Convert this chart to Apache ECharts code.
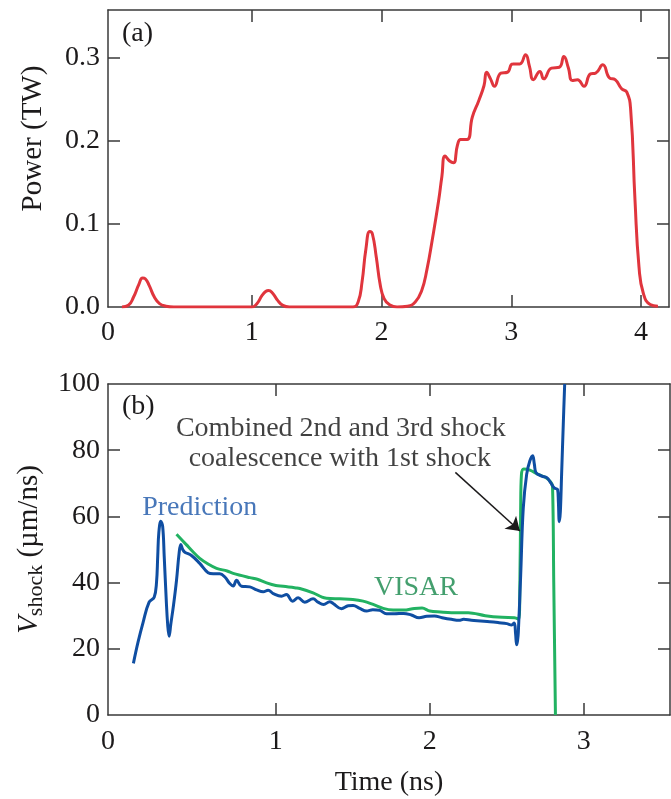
<!DOCTYPE html>
<html><head><meta charset="utf-8">
<script src="https://cdn.jsdelivr.net/npm/echarts@6/dist/echarts.min.js"></script>
<style>html,body{margin:0;padding:0;background:#fff}#c{width:671px;height:799px}</style>
</head><body><div id="c"></div>
<script>
// ---- Panel (a): laser power ----
const powerTime = [0.0,0.05,0.09,0.13,0.16,0.18,0.21,0.25,0.29,0.34,0.4,1.0,1.04,1.08,1.11,1.13,1.16,1.2,1.24,1.29,1.78,1.82,1.85,1.88,1.91,1.93,1.96,1.99,2.02,2.06,2.12,2.2,2.26,2.31,2.35,2.39,2.44,2.465,2.49,2.525,2.555,2.585,2.61,2.66,2.70,2.75,2.79,2.81,2.84,2.87,2.92,2.97,3.01,3.065,3.11,3.14,3.17,3.22,3.25,3.31,3.37,3.405,3.44,3.47,3.51,3.56,3.61,3.65,3.705,3.757,3.80,3.85,3.89,3.92,3.953,3.984,4.018,4.07,4.13];
const powerTW   = [0,0.002,0.012,0.027,0.035,0.034,0.026,0.012,0.004,0.001,0,0,0.004,0.014,0.019,0.020,0.017,0.008,0.002,0,0,0.006,0.03,0.07,0.091,0.088,0.06,0.027,0.01,0.003,0,0.001,0.006,0.02,0.045,0.08,0.128,0.157,0.182,0.176,0.174,0.195,0.202,0.202,0.229,0.249,0.267,0.283,0.275,0.266,0.282,0.283,0.293,0.293,0.304,0.29,0.274,0.284,0.275,0.288,0.289,0.302,0.288,0.273,0.274,0.266,0.281,0.282,0.292,0.276,0.274,0.263,0.259,0.237,0.129,0.048,0.016,0.003,0.001];

// ---- Panel (b): shock velocity ----
const predTime = [0.075,0.105,0.138,0.177,0.21,0.225,0.233,0.24,0.253,0.265,0.275,0.288,0.298,0.307,0.318,0.335,0.355,0.372,0.383,0.395,0.409,0.452,0.506,0.56,0.593,0.636,0.669,0.701,0.723,0.745,0.777,0.831,0.875,0.918,0.95,0.983,1.037,1.069,1.108,1.145,1.188,1.242,1.274,1.31,1.35,1.372,1.426,1.47,1.502,1.545,1.589,1.63,1.675,1.719,1.77,1.83,1.88,1.93,1.98,2.03,2.08,2.14,2.19,2.22,2.27,2.33,2.39,2.45,2.5,2.531,2.548,2.557,2.564,2.57,2.575,2.59,2.607,2.629,2.65,2.668,2.679,2.69,2.727,2.76,2.786,2.808,2.83,2.835,2.841,2.848,2.856,2.867,2.876];
const predVel  = [15.6,22,28,34.1,35.6,40,48,55,58.5,57,48,35,27,23.8,27.5,33,40.7,49,51.5,50,49.2,48.2,45.8,43,42.7,42.7,41.7,39.7,39,40.7,38.9,38.7,37.8,37.2,37.7,36.7,35.9,36.4,34.4,35.4,34.1,35.1,34.1,33.4,34.2,33.7,32.1,33,33.1,32.2,31.4,31.8,31.6,30.6,30.6,30.7,30.2,29.4,29.8,29.9,29.4,28.9,28.6,28.9,28.6,28.4,28.2,27.9,27.6,27.2,27.8,24.6,21.2,22.5,25,42,62.5,72.7,76.8,78.3,75.8,73.2,72.2,71.7,70.1,68.6,68.1,64.5,58.4,61.5,72.7,88,100];

const visarTime = [0.355,0.42,0.46,0.506,0.56,0.615,0.684,0.723,0.831,0.88,0.94,1.0,1.048,1.13,1.156,1.242,1.3,1.329,1.416,1.5,1.567,1.632,1.697,1.762,1.83,1.9,1.95,2.0,2.07,2.14,2.25,2.36,2.47,2.55,2.578,2.585,2.59,2.595,2.61,2.65,2.7,2.75,2.785,2.797,2.805,2.816];
const visarVel  = [54.6,51.4,49.4,47.3,45.6,44.3,43.5,42.8,41.5,41,39.9,39.1,38.9,38.4,38.2,36.9,35.6,35.3,35.1,34.9,34.4,33.4,32.2,31.7,31.7,32.2,32.3,31.4,31.1,30.9,30.9,30,29.5,29.4,28.9,40,62,72.5,74.3,74,72.8,71.8,70.4,69,40,0];

// ---- axes / ticks ----
const topXMin = -0.107, topXMax = 4.215;
const topXTicks = [1,2,3,4];
const topXLabels = [topXMin,1,2,3,4];
const topYMin = 0, topYMax = 0.358;
const topYTicks = [0.1,0.2,0.3];
const topYLabels = [0,0.1,0.2,0.3];

const botXMin = -0.09, botXMax = 3.56;
const botXTicks = [1,2,3];
const botXLabels = [botXMin,1,2,3];
const botYMin = 0, botYMax = 100;
const botYTicks = [20,40,60,80];
const botYLabels = [0,20,40,60,80,100];

// annotation anchor points (data coords)
const arrowFrom = [2.166, 73.3];
const arrowTo   = [2.585, 55.6];
const noteText = ['Combined 2nd and 3rd shock','coalescence with 1st shock','Prediction','VISAR'];
const noteTime = [1.422, 1.416, 0.506, 1.91];
const noteVel  = [86.6, 77.5, 62.7, 38.6];

const FONT = "'Liberation Serif','Times New Roman',serif";
const INK = '#1c1a1b', AX = '#3a3a3a';
const RED = '#e0353d', BLUE = '#0f4ea2', GREEN = '#22b262';
const noteColor = ['#111111', '#111111', '#1a55a8', '#15874a'];

const zip = (a,b) => a.map((v,i)=>[v,b[i]]);

function axisBase(extra) {
  return Object.assign({
    type:'value',
    axisLine:{show:true,onZero:false,lineStyle:{color:AX,width:1.5}},
    splitLine:{show:false},
    axisPointer:{show:false}
  }, extra);
}
function ticksOn(vals){ return {show:true,inside:true,length:12,customValues:vals,lineStyle:{color:AX,width:1.5}}; }
const labelStyle = {fontSize:28,fontFamily:FONT,color:INK};

const chart = echarts.init(document.getElementById('c'), null, {renderer:'canvas'});
chart.setOption({
  animation:false,
  backgroundColor:'#fff',
  grid:[
    {left:108,right:2,top:10,height:297},
    {left:108,right:1,top:384,height:331}
  ],
  xAxis:[
    axisBase({gridIndex:0,min:topXMin,max:topXMax,position:'bottom',axisTick:ticksOn(topXTicks),
      axisLabel:Object.assign({show:true,margin:12,customValues:topXLabels,formatter:v=>v<0.5?'0':String(Math.round(v))},labelStyle)}),
    axisBase({gridIndex:0,min:topXMin,max:topXMax,position:'top',axisTick:ticksOn(topXTicks),axisLabel:{show:false}}),
    axisBase({gridIndex:1,min:botXMin,max:botXMax,position:'bottom',axisTick:ticksOn(botXTicks),
      axisLabel:Object.assign({show:true,margin:13,customValues:botXLabels,formatter:v=>v<0.5?'0':String(Math.round(v))},labelStyle),
      name:'Time (ns)',nameLocation:'middle',nameGap:54,nameTextStyle:labelStyle}),
    axisBase({gridIndex:1,min:botXMin,max:botXMax,position:'top',axisTick:ticksOn(botXTicks),axisLabel:{show:false}})
  ],
  yAxis:[
    axisBase({gridIndex:0,min:topYMin,max:topYMax,position:'left',axisTick:ticksOn(topYTicks),
      axisLabel:Object.assign({show:true,margin:8,customValues:topYLabels,formatter:v=>v.toFixed(1)},labelStyle),
      name:'Power (TW)',nameLocation:'middle',nameGap:60,
      nameTextStyle:Object.assign({padding:[0,0,0,40]},labelStyle,{fontSize:29})}),
    axisBase({gridIndex:0,min:topYMin,max:topYMax,position:'right',axisTick:ticksOn(topYTicks),axisLabel:{show:false}}),
    axisBase({gridIndex:1,min:botYMin,max:botYMax,position:'left',axisTick:ticksOn(botYTicks),
      axisLabel:Object.assign({show:true,margin:8,customValues:botYLabels,formatter:v=>String(v)},labelStyle),
      name:'{v|V}{s|shock}{u| (µm/ns)}',nameLocation:'middle',nameGap:58,
      nameTextStyle:{fontFamily:FONT,color:INK,fontSize:28,rich:{
        v:{fontFamily:FONT,color:INK,fontSize:29,fontStyle:'italic',lineHeight:36},
        s:{fontFamily:FONT,color:INK,fontSize:22,lineHeight:22,verticalAlign:'bottom'},
        u:{fontFamily:FONT,color:INK,fontSize:29,lineHeight:36}
      }}}),
    axisBase({gridIndex:1,min:botYMin,max:botYMax,position:'right',axisTick:ticksOn(botYTicks),axisLabel:{show:false}})
  ],
  graphic:[
    {type:'text',left:122,top:20,style:{text:'(a)',fontSize:28,fontFamily:FONT,fill:INK}},
    {type:'text',left:122,top:393,style:{text:'(b)',fontSize:28,fontFamily:FONT,fill:INK}}
  ],
  series:[
    {type:'line',name:'Power',xAxisIndex:0,yAxisIndex:0,data:zip(powerTime,powerTW),smooth:0.5,
      symbol:'none',lineStyle:{color:RED,width:3},silent:true},
    {type:'line',name:'VISAR',xAxisIndex:2,yAxisIndex:2,data:zip(visarTime,visarVel),smooth:0.35,
      symbol:'none',lineStyle:{color:GREEN,width:3},silent:true,z:2},
    {type:'line',name:'Prediction',xAxisIndex:2,yAxisIndex:2,data:zip(predTime,predVel),smooth:0.4,
      symbol:'none',lineStyle:{color:BLUE,width:3},silent:true,clip:true,z:3},
    {type:'lines',coordinateSystem:'cartesian2d',xAxisIndex:2,yAxisIndex:2,silent:true,z:5,
      symbol:['none','arrow'],symbolSize:[0,13],
      lineStyle:{color:INK,width:1.5,opacity:1},
      data:[{coords:[arrowFrom,arrowTo]}]},
    {type:'scatter',xAxisIndex:2,yAxisIndex:2,symbolSize:0,silent:true,z:6,
      data:noteText.map((t,i)=>({value:[noteTime[i],noteVel[i]],
        label:{show:true,position:'inside',formatter:t,fontSize:28,fontFamily:FONT,color:noteColor[i]}}))}
  ]
});
</script>
</body></html>
